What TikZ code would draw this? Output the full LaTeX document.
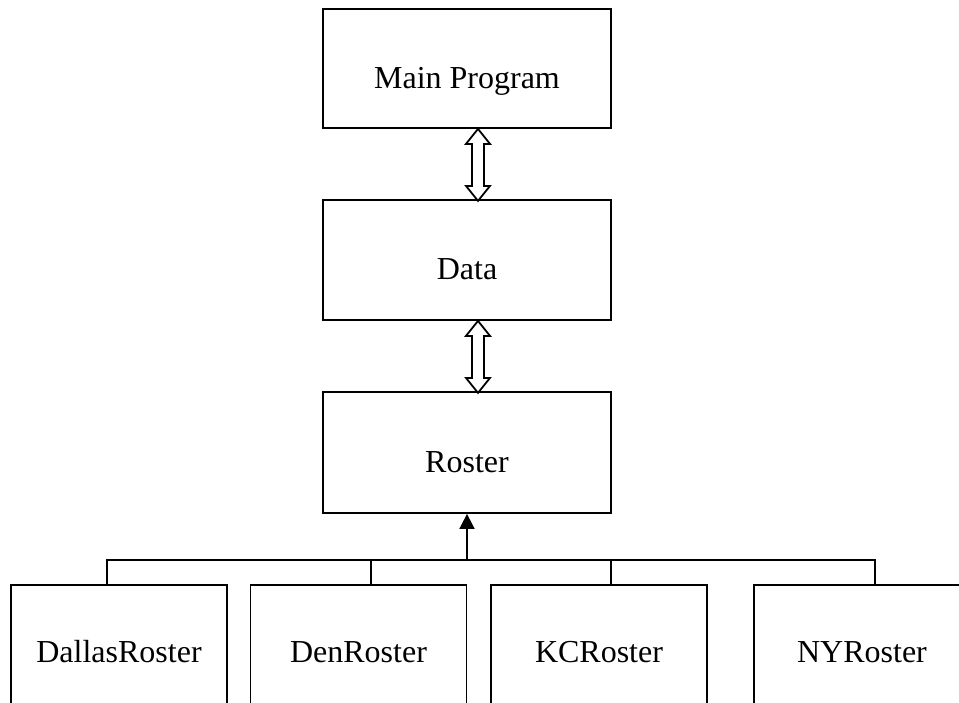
\documentclass[tikz,border=0pt]{standalone}
\usepackage{fontspec}
\setmainfont{Liberation Serif}
\usetikzlibrary{arrows.meta}
\begin{document}
\begin{tikzpicture}[x=1pt,y=-1pt,
  lw/.style={line width=1.8pt},
  topbox/.style={draw,lw,inner sep=0pt,minimum width=288pt,minimum height=120pt,
    text height=39pt,text depth=0pt,font=\fontsize{32}{38}\selectfont},
  subbox/.style={draw,lw,inner sep=0pt,minimum width=216pt,minimum height=170pt,
    text height=10pt,text depth=26pt,font=\fontsize{32}{38}\selectfont},
  hollow/.style={lw,line join=miter},
  tree/.style={lw}]
\useasboundingbox (0,0) rectangle (959,702);
\clip (0,0) rectangle (959,702);

\node[topbox,minimum height=119pt] (main) at (467,68.5) {Main Program};
\node[topbox] (data) at (467,260) {Data};
\node[topbox,minimum height=121pt] (roster) at (467,452.5) {Roster};

\node[subbox] (dal) at (119,670) {DallasRoster};
\node[subbox] (den) at (358.5,670) {DenRoster};
\node[subbox] (kc) at (599,670) {KCRoster};
\node[subbox] (ny) at (862,670) {NYRoster};

% hollow double arrows
\draw[hollow] ([xshift=11pt]main.south) -- ++(12,15) -- ++(-6,0) -- ++(0,42) -- ++(6,0)
  -- ++(-12,15) -- ++(-12,-15) -- ++(6,0) -- ++(0,-42) -- ++(-6,0) -- cycle;
\draw[hollow] ([xshift=11pt]data.south) -- ++(12,15) -- ++(-6,0) -- ++(0,42) -- ++(6,0)
  -- ++(-12,15) -- ++(-12,-15) -- ++(6,0) -- ++(0,-42) -- ++(-6,0) -- cycle;

% inheritance tree
\coordinate (bus) at (467,561);
\draw[tree] ([xshift=-12pt]dal.north) -- ++(0,-24) -| ([xshift=13pt]ny.north);
\draw[tree] ([xshift=12.5pt]den.north) -- ++(0,-24);
\draw[tree] ([xshift=12pt]kc.north) -- ++(0,-24);
\draw[tree,-{Triangle[length=15pt,width=15pt]}] (bus) -- (roster.south);
\end{tikzpicture}
\end{document}
